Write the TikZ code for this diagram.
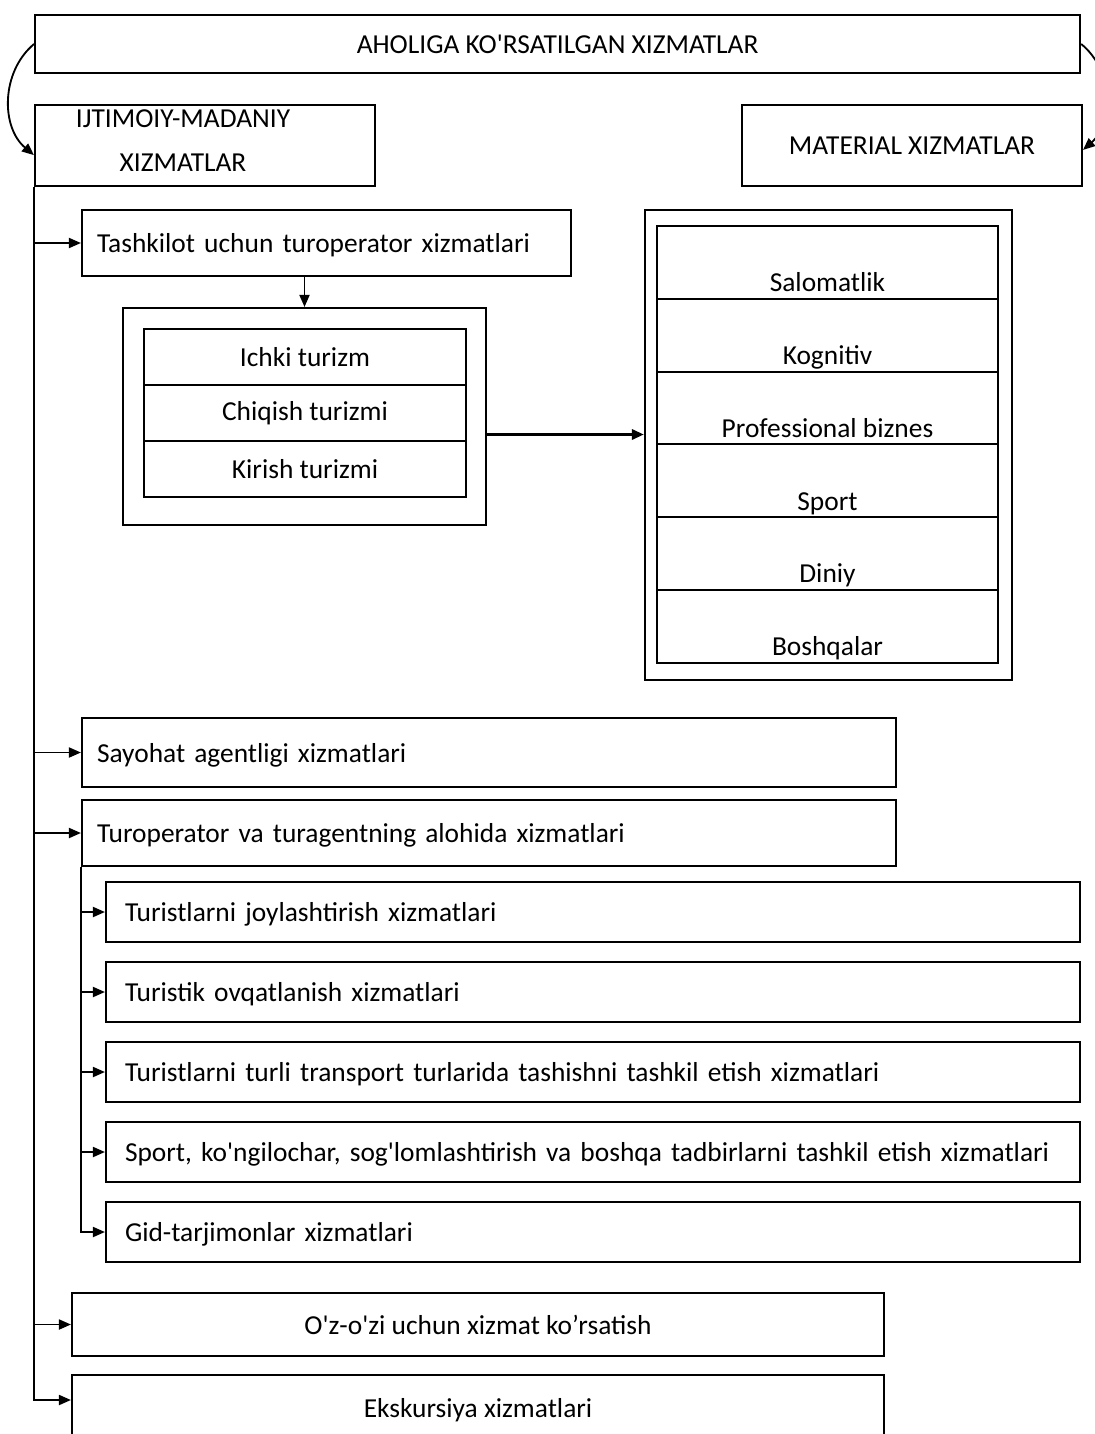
\documentclass[tikz,border=0pt]{standalone}
\usepackage{fontspec}
\setmainfont{Carlito}
\usetikzlibrary{positioning, arrows.meta}
\newcommand{\ap}{\textquotesingle}

\begin{document}
\begin{tikzpicture}[
        box/.style={draw, line width=1.5pt, inner sep=0pt,
            font=\fontsize{19.5}{23}\selectfont},
        lbox/.style={box, align=left, inner xsep=0.375cm, text width=#1,
            text depth=0pt},
        subbox/.style={box, align=left, inner xsep=0.475cm,
            text width=23.4cm, text depth=0pt, minimum height=1.5cm},
        turrow/.style={box, outer sep=0pt, minimum width=8.05cm, minimum height=1.4cm},
        goalrow/.style={box, outer sep=0pt, minimum width=8.525cm, text height=1.59cm,
            text depth=0.13cm, inner ysep=0.05cm},
        arr/.style={line width=1.3pt, -{Triangle[length=0.3cm, width=0.25cm]}}
    ]
    \useasboundingbox (0,0) rectangle (27.375,-35.85);
    \clip (0,0) rectangle (27.375,-35.85);

    % top level
    \node[box, minimum width=26.125cm, minimum height=1.45cm] (top) at (13.94,-1.1)
        {AHOLIGA KO\ap RSATILGAN XIZMATLAR};
    \node[box, minimum width=8.5cm, minimum height=2.025cm] (ijt) at (5.125,-3.6375) {};
    \node[align=center, inner sep=0pt, font=\fontsize{19.5}{23}\selectfont] (ijttext)
        at (4.575,-3.5125) {IJTIMOIY-MADANIY\\[0.3cm]XIZMATLAR};
    \node[box, minimum width=8.5cm, minimum height=2.025cm] (mat) at (22.8,-3.6375)
        {MATERIAL XIZMATLAR};

    % turoperator for organisations
    \node[lbox=11.475cm, minimum height=1.65cm] (tash) at (8.1625,-6.075)
        {Tashkilot uchun turoperator xizmatlari};
    \node[box, minimum width=9.075cm, minimum height=5.425cm] (tur) at (7.6125,-10.4125) {};
    \node[turrow] (ichki) at (7.625,-8.925) {Ichki turizm};
    \node[turrow, below=0pt of ichki] (chiqish) {Chiqish turizmi};
    \node[turrow, below=0pt of chiqish] (kirish) {Kirish turizmi};

    % goals
    \node[box, minimum width=9.175cm, minimum height=11.75cm] (maq) at (20.7125,-11.125) {};
    \node[goalrow] (salom) at (20.6875,-6.56) {Salomatlik};
    \node[goalrow, below=0pt of salom] (kogn) {Kognitiv};
    \node[goalrow, below=0pt of kogn] (prof) {Professional biznes};
    \node[goalrow, below=0pt of prof] (sport) {Sport};
    \node[goalrow, below=0pt of sport] (diniy) {Diniy};
    \node[goalrow, below=0pt of diniy] (boshq) {Boshqalar};

    % agencies
    \node[lbox=19.6cm, minimum height=1.725cm] (say) at (12.225,-18.8125)
        {Sayohat agentligi xizmatlari};
    \node[lbox=19.6cm, minimum height=1.65cm] (alo) at (12.225,-20.825)
        {Turoperator va turagentning alohida xizmatlari};
    \node[subbox] (joy) at (14.825,-22.8) {Turistlarni joylashtirish xizmatlari};
    \node[subbox] (ovq) at (14.825,-24.8) {Turistik ovqatlanish xizmatlari};
    \node[subbox] (tra) at (14.825,-26.8)
        {Turistlarni turli transport turlarida tashishni tashkil etish xizmatlari};
    \node[subbox] (spo) at (14.825,-28.8)
        {Sport, ko\ap ngilochar, sog\ap lomlashtirish va boshqa tadbirlarni tashkil etish xizmatlari};
    \node[subbox] (gid) at (14.825,-30.8) {Gid-tarjimonlar xizmatlari};
    \node[box, minimum width=20.3cm, minimum height=1.575cm] (ozo) at (11.95,-33.1125)
        {O\ap z-o\ap zi uchun xizmat ko’rsatish};
    \node[box, minimum width=20.3cm, minimum height=1.75cm] (eks) at (11.95,-35.25)
        {Ekskursiya xizmatlari};

    % connectors
    \draw[arr] (top.west) to[bend right=50] ([yshift=-0.24cm]ijt.west);
    \draw[arr] (top.east) to[bend left=50] ([yshift=-0.11cm]mat.east);
    \draw[arr] (ijt.south west) |- (tash.west);
    \draw[arr] (ijt.south west) |- (say.west);
    \draw[arr] (ijt.south west) |- (alo.west);
    \draw[arr] (ijt.south west) |- (ozo.west);
    \draw[arr] (ijt.south west) |- ([yshift=0.25cm]eks.west);
    \draw[arr] (tash.south -| tur.north) -- (tur.north);
    \draw[arr, line width=2.2pt] ([yshift=-0.45cm]tur.east) -- ([yshift=-0.45cm]tur.east -| maq.west);
    \draw[arr] (alo.south west) |- (joy.west);
    \draw[arr] (alo.south west) |- (ovq.west);
    \draw[arr] (alo.south west) |- (tra.west);
    \draw[arr] (alo.south west) |- (spo.west);
    \draw[arr] (alo.south west) |- (gid.west);
\end{tikzpicture}
\end{document}
